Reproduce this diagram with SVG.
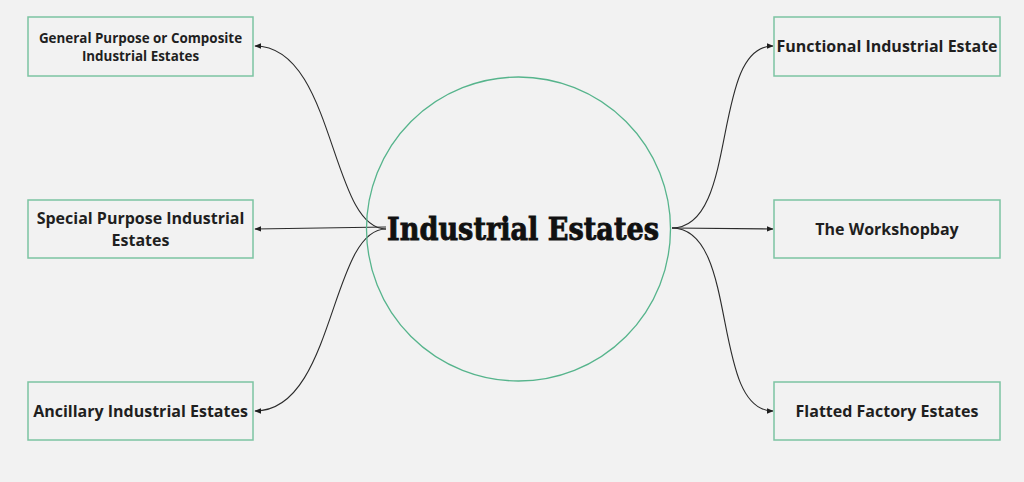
<svg xmlns="http://www.w3.org/2000/svg" width="1024" height="482" viewBox="0 0 1024 482">
<style>
.box{fill:none;stroke:#7cc4a2;stroke-width:1.5}
.lbl{font-family:"Open Sans","Noto Sans",sans-serif;font-weight:700;font-size:16px;fill:#1f1f1f;text-anchor:middle}
.sm{font-size:13.4px}
.conn{fill:none;stroke:#2b2b2b;stroke-width:1.1;marker-end:url(#ah)}
</style>
<defs>
<marker id="ah" viewBox="0 0 10 10" refX="9" refY="5" markerWidth="7" markerHeight="7" markerUnits="userSpaceOnUse" orient="auto">
<path d="M0,1 L10,5 L0,9 z" fill="#1f1f1f"/>
</marker>
</defs>
<rect width="1024" height="482" fill="#f2f2f2"/>
<g id="connectors">
<path class="conn" d="M386,229 C330,229 335,46 255,46"/>
<path class="conn" d="M386,227 L255,229"/>
<path class="conn" d="M386,229 C330,229 335,411 255,411"/>
<path class="conn" d="M672,228 C740,228 710,46 773,46"/>
<path class="conn" d="M672,228 L773,229"/>
<path class="conn" d="M672,228 C740,228 710,411 773,411"/>
</g>
<g id="center">
<circle cx="518.5" cy="229" r="152" fill="none" stroke="#56b48c" stroke-width="1.3"/>
<text x="523" y="240" font-family="'DejaVu Serif','Liberation Serif',serif" font-weight="900" font-size="32" text-anchor="middle" fill="#111" stroke="#111" stroke-width="0.9" textLength="272" lengthAdjust="spacingAndGlyphs">Industrial Estates</text>
</g>
<g id="n1">
<rect class="box" x="28" y="17" width="225" height="59"/>
<text class="lbl sm" x="140.5" y="43">General Purpose or Composite</text>
<text class="lbl sm" x="140.5" y="61">Industrial Estates</text>
</g>
<g id="n2">
<rect class="box" x="28" y="200" width="225" height="58"/>
<text class="lbl" x="140.5" y="224">Special Purpose Industrial</text>
<text class="lbl" x="140.5" y="246">Estates</text>
</g>
<g id="n3">
<rect class="box" x="28" y="382" width="225" height="58"/>
<text class="lbl" x="140.5" y="417">Ancillary Industrial Estates</text>
</g>
<g id="n4">
<rect class="box" x="774" y="17" width="226" height="59"/>
<text class="lbl" x="887" y="52">Functional Industrial Estate</text>
</g>
<g id="n5">
<rect class="box" x="774" y="200" width="226" height="58"/>
<text class="lbl" x="887" y="235">The Workshopbay</text>
</g>
<g id="n6">
<rect class="box" x="774" y="382" width="226" height="58"/>
<text class="lbl" x="887" y="417">Flatted Factory Estates</text>
</g>
</svg>
